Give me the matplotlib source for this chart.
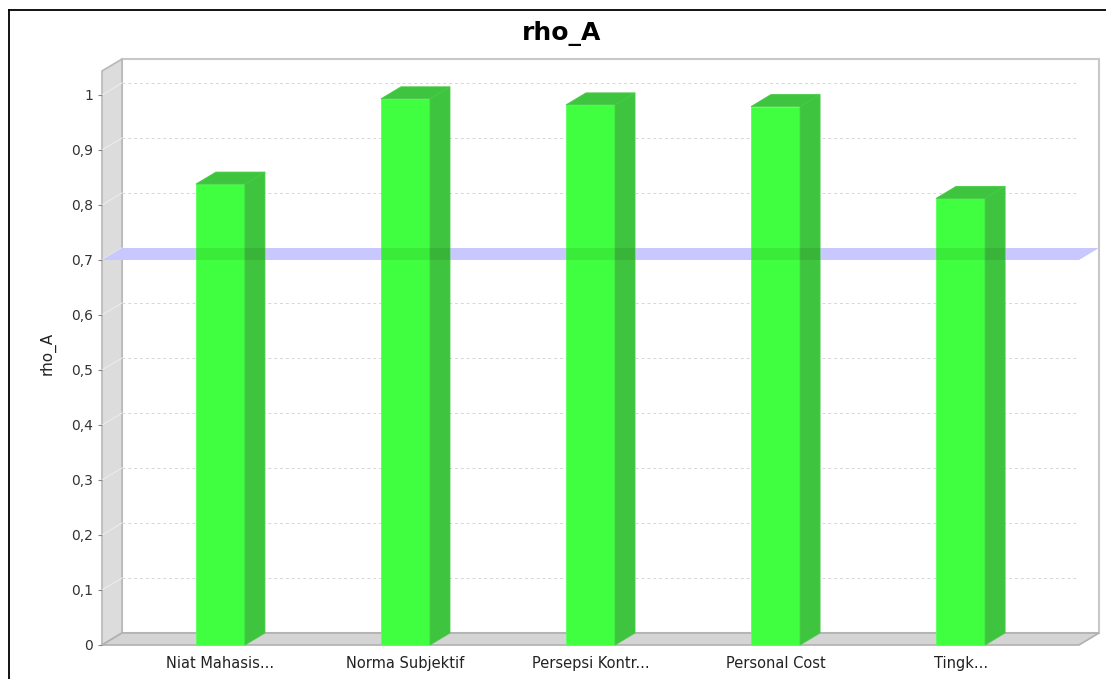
import numpy as np
import matplotlib
matplotlib.use("Agg")
import matplotlib.pyplot as plt
from matplotlib.patches import Polygon
from matplotlib.lines import Line2D
from matplotlib.transforms import IdentityTransform

# chart data
categories = ["Niat Mahasis...", "Norma Subjektif", "Persepsi Kontr...",
              "Personal Cost", "Tingk..."]
rho_a = [0.838, 0.993, 0.982, 0.979, 0.812]
y_ticks = [0, 0.1, 0.2, 0.3, 0.4, 0.5, 0.6, 0.7, 0.8, 0.9, 1.0]
y_tick_labels = ["0", "0,1", "0,2", "0,3", "0,4", "0,5", "0,6", "0,7", "0,8", "0,9", "1"]
threshold = 0.7

W, H = 1106, 679
DX, DY = 20, 12          # 3d depth offset in pixels
BAR_W = 0.265

fig = plt.figure(figsize=(W / 100, H / 100), dpi=100)
fig.patch.set_facecolor("white")
ax = fig.add_axes([102 / W, 34 / H, 977 / W, 574 / H])
ax.set_xlim(-0.64, 4.64)
ax.set_ylim(0, 1.0436)
ax.set_autoscale_on(False)
ax.patch.set_visible(False)
for s in ax.spines.values():
    s.set_visible(False)


def px(x, y, back=False):
    p = ax.transData.transform((x, y))
    return p + (DX, DY) if back else p


def poly(pts, z, **kw):
    p = Polygon(np.array(pts), closed=True, transform=IdentityTransform(),
                clip_on=False, zorder=z, **kw)
    ax.add_patch(p)


x0, x1 = ax.get_xlim()
y0, y1 = ax.get_ylim()

# back wall, left wall, floor
poly([px(x0, y0, True), px(x1, y0, True), px(x1, y1, True), px(x0, y1, True)], 0.5,
     facecolor="white", edgecolor="#c8c8c8", lw=1.5)
poly([px(x0, y0), px(x0, y1), px(x0, y1, True), px(x0, y0, True)], 0.6,
     facecolor="#dcdcdc", edgecolor="#b8b8b8", lw=1.2)
poly([px(x0, y0), px(x1, y0), px(x1, y0, True), px(x0, y0, True)], 0.6,
     facecolor="#d4d4d4", edgecolor="#b0b0b0", lw=1.2)

# gridlines
for v in y_ticks[1:]:
    a, b = px(x0, v), px(x0, v, True)
    c = px(x1, v, True)
    ax.add_line(Line2D([a[0], b[0]], [a[1], b[1]], transform=IdentityTransform(),
                       color="#ececec", lw=0.8, zorder=0.7))
    ax.add_line(Line2D([b[0], c[0]], [b[1], c[1]], transform=IdentityTransform(),
                       color="#d6d6d6", lw=0.7, ls=(0, (3, 3)), zorder=0.7))

# threshold marker band (behind the bars)
poly([px(x0, threshold), px(x1, threshold), px(x1, threshold, True),
      px(x0, threshold, True)], 1, facecolor="#c8c8ff", edgecolor="none")

# bars: front face through ax.bar, top and side as parallelograms
xs = np.arange(len(categories))
ax.bar(xs, rho_a, width=BAR_W, color="#40ff40", edgecolor="#5cff5c", lw=0.6, zorder=2)
for x, v in zip(xs, rho_a):
    l, r = x - BAR_W / 2, x + BAR_W / 2
    poly([px(l, v), px(r, v), px(r, v, True), px(l, v, True)], 2.1,
         facecolor="#3ec43e", edgecolor="#46cc46", lw=0.6)
    poly([px(r, 0), px(r, v), px(r, v, True), px(r, 0, True)], 2.1,
         facecolor="#3ec43e", edgecolor="#46cc46", lw=0.6)
    # band seen through the bar: slightly darker strip
    a, b = px(l, threshold), px(r, threshold)
    poly([a, b + (DX, 0), b + (DX, DY), a + (0, DY)], 2.2,
         facecolor=(0, 0.15, 0, 0.09), edgecolor="none")

# axes ticks
ax.set_yticks(y_ticks, y_tick_labels)
ax.tick_params(axis="y", length=3, width=0.8, color="#888888", pad=3.5,
               labelsize=10, labelcolor="#333333")
ax.set_xticks(xs, categories)
ax.tick_params(axis="x", length=0, pad=8, labelsize=10.5, labelcolor="#222222")

fig.text(48 / W, 1 - 353 / H, "rho_A", rotation=90, ha="center", va="center",
         fontsize=11, color="#222222")
fig.text(562 / W, 1 - 33 / H, "rho_A", ha="center", va="center",
         fontsize=18, fontweight="bold", color="black")

# outer frame (top and left edges of the screenshot)
fig.add_artist(Line2D([9, W], [H - 10, H - 10], transform=IdentityTransform(),
                      color="black", lw=1.3))
fig.add_artist(Line2D([9, 9], [0, H - 10], transform=IdentityTransform(),
                      color="black", lw=1.3))

fig.savefig("out.png", dpi=100)
